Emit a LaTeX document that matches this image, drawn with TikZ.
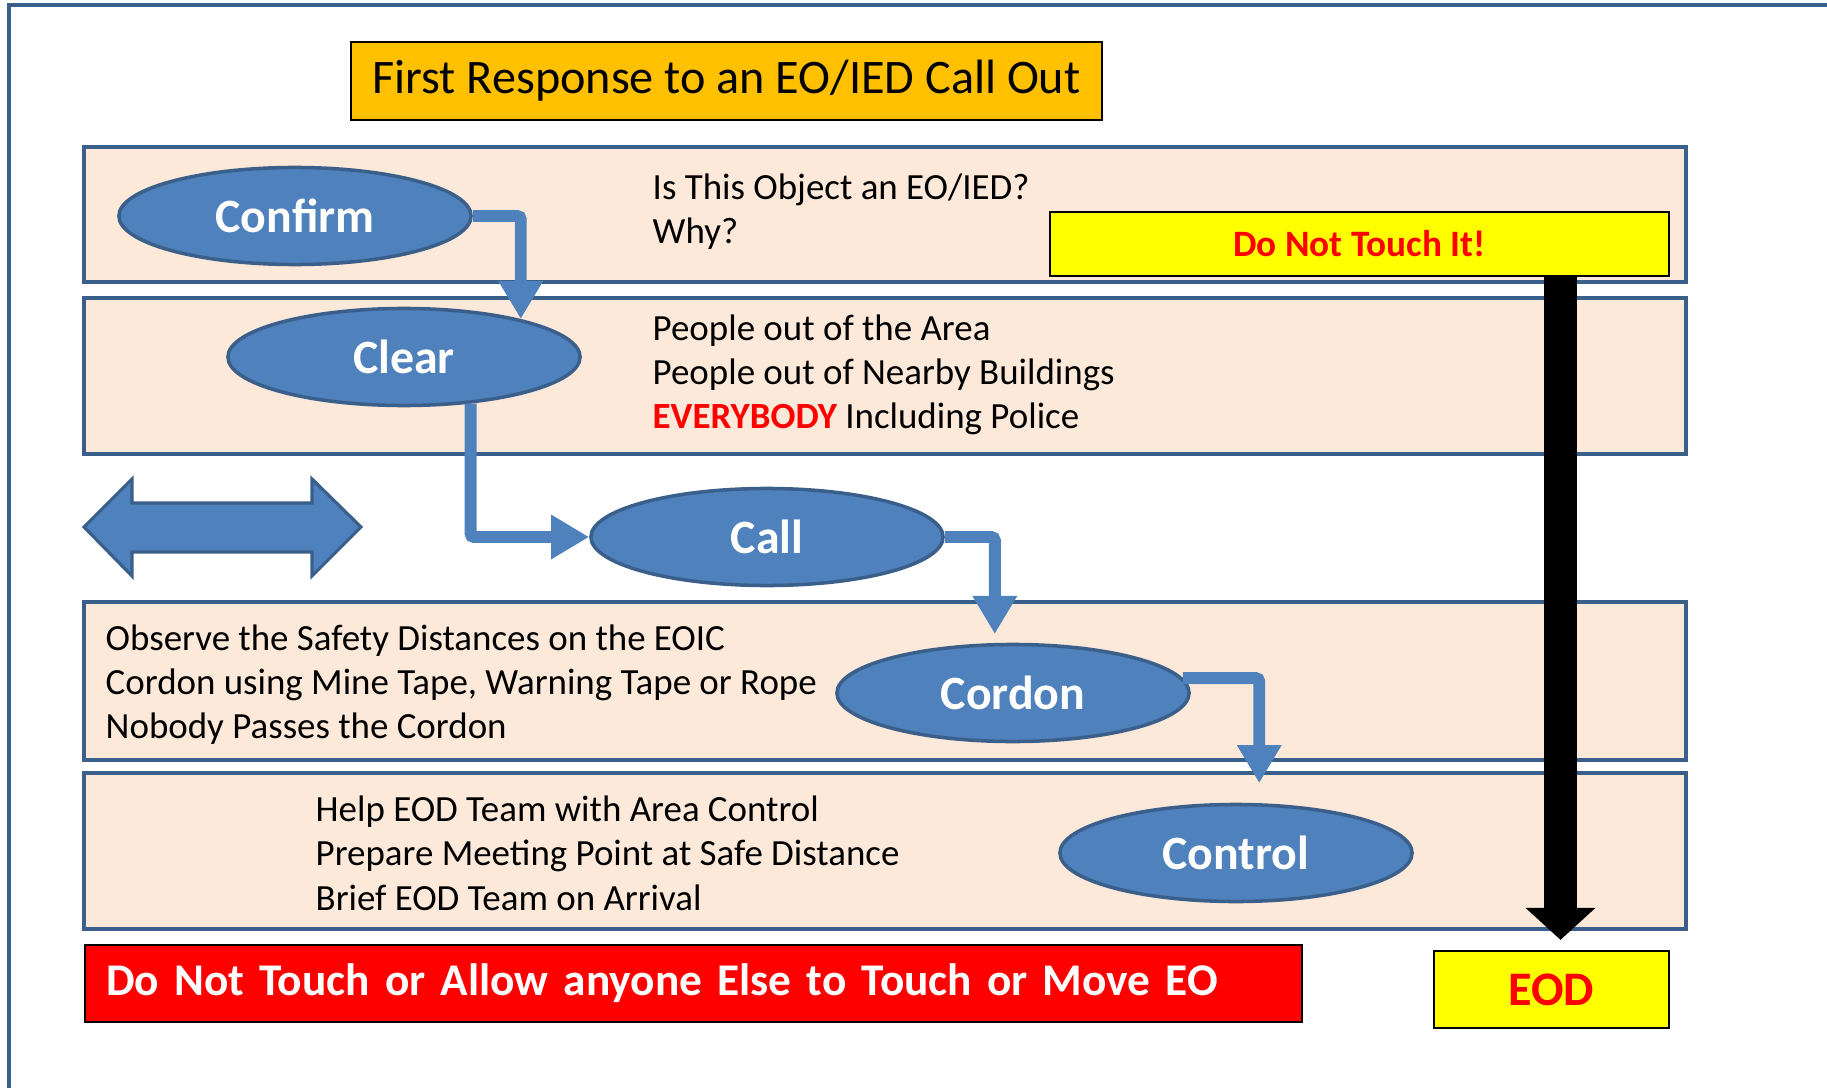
\documentclass[tikz,border=0pt]{standalone}
\usepackage{fontspec}
\setmainfont{Carlito}
\usetikzlibrary{arrows.meta,shapes.geometric}
\definecolor{stepfill}{HTML}{4F81BD}
\definecolor{stepline}{HTML}{3A5F8B}
\definecolor{bandfill}{HTML}{FDE9D9}
\definecolor{titlefill}{HTML}{FFC000}
\definecolor{warnred}{HTML}{FF0000}
\definecolor{warnyellow}{HTML}{FFFF00}

\begin{document}
\begin{tikzpicture}[x=0.01cm, y=-0.01cm,
  band/.style={draw=stepline, fill=bandfill, line width=1.4pt},
  stage/.style={ellipse, draw=stepline, fill=stepfill, line width=1pt,
    minimum width=3.52cm, minimum height=0.97cm, inner sep=0pt,
    text=white, font=\fontsize{13.6}{16}\selectfont\bfseries},
  lines/.style={anchor=west, align=left, inner sep=0pt,
    font=\fontsize{10.5}{12.6}\selectfont},
  sign/.style={draw=black, line width=0.6pt, inner sep=0pt},
  flow/.style={draw=stepfill, line width=3.4pt, rounded corners=1pt,
    -{Triangle[width=0.42cm,length=0.38cm]}},
  eodarrow/.style={draw=black, line width=9.4pt,
    -{Triangle[width=0.68cm,length=0.32cm]}}]
  \useasboundingbox (0,0) rectangle (1827,1088);
  \draw[stepline, line width=1pt] (9,1088) -- (9,5) -- (1827,5);

  \node[sign, fill=titlefill, minimum width=7.51cm, minimum height=0.78cm,
    font=\fontsize{13.7}{16}\selectfont] (title) at (726.5,81)
    {First Response to an EO/IED Call Out};

  \draw[band] (84,147) rectangle (1686,282);
  \draw[band] (84,298) rectangle (1686,454);
  \draw[band] (84,602) rectangle (1686,760);
  \draw[band] (84,773) rectangle (1686,929);

  \draw[stepline, fill=stepfill, line width=0.9pt, line join=miter]
    (84,527) -- (132,479) -- (132,503) -- (312,503) -- (312,479) -- (361,527)
    -- (312,576) -- (312,552) -- (132,552) -- (132,576) -- cycle;

  \node[lines] (why) at (652,211.5) {Is This Object an EO/IED?\\Why?};
  \node[lines] (area) at (652,375) {People out of the Area\\People out of Nearby Buildings\\%
    {\bfseries\color{warnred}EVERYBODY} Including Police};
  \node[lines] (safe) at (105,684.5) {Observe the Safety Distances on the EOIC\\%
    Cordon using Mine Tape, Warning Tape or Rope\\Nobody Passes the Cordon};
  \node[lines] (help) at (315,853) {Help EOD Team with Area Control\\%
    Prepare Meeting Point at Safe Distance\\Brief EOD Team on Arrival};

  \node[sign, fill=warnyellow, minimum width=6.19cm, minimum height=0.64cm,
    text=warnred, font=\fontsize{10.6}{13}\selectfont\bfseries] (dnt) at (1359.5,244)
    {Do Not Touch It!};
  \node[sign, fill=warnyellow, minimum width=2.35cm, minimum height=0.77cm,
    text=warnred, font=\fontsize{13.7}{16}\selectfont\bfseries] (eod) at (1551.5,989.5)
    {EOD};
  \node[sign, fill=warnred, anchor=west, text width=11.74cm, inner xsep=0.21cm,
    minimum height=0.77cm, align=left, text=white,
    font=\fontsize{12.9}{16}\selectfont\bfseries] (never) at (84,983.5)
    {Do Not Touch or Allow anyone Else to Touch or Move EO};

  \node[stage] (confirm) at (295,216) {Confirm};
  \node[stage] (clear) at (404,357) {Clear};
  \node[stage] (call) at (767,537) {Call};
  \node[stage] (cordon) at (1013,693) {Cordon};
  \node[stage] (control) at (1236,853) {Control};

  \draw[flow] (confirm.east) -| (clear.18);
  \draw[flow] (clear.-35) |- (call.west);
  \draw[flow, shorten >=0.09cm] (call.east) -| (cordon.110);
  \draw[flow, shorten >=0.2cm] (cordon.5) -| (control.65);
  \draw[eodarrow, shorten >=0.1cm] ([xshift=0.09cm]dnt.south -| eod.north)
    -- ([xshift=0.09cm]eod.north);
\end{tikzpicture}
\end{document}
